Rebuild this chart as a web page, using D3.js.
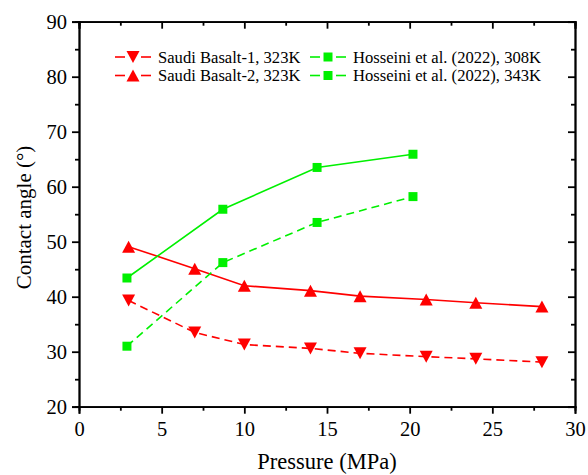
<!DOCTYPE html>
<html>
<head>
<meta charset="utf-8">
<script src="https://cdn.jsdelivr.net/npm/d3@7"></script>
<style>
  html, body { margin: 0; padding: 0; background: #fff; }
  svg text { font-family: 'Liberation Serif', 'Times New Roman', Times, serif !important; }
</style>
</head>
<body>
<svg id="chart" width="588" height="475"></svg>
<script>
// Contact angle vs pressure
const saudiX = [3, 7, 10, 14, 17, 21, 24, 28];
const basalt1 = [39.3, 33.5, 31.3, 30.6, 29.7, 29.1, 28.7, 28.1];
const basalt2 = [49.1, 45.1, 42.0, 41.1, 40.1, 39.5, 38.9, 38.2];
const hosseiniX = [2.9, 8.7, 14.4, 20.2];
const hosseini308 = [31.0, 46.2, 53.5, 58.2];
const hosseini343 = [43.4, 55.9, 63.5, 65.9];
const xTicks = [0, 5, 10, 15, 20, 25, 30];
const yTicks = [20, 30, 40, 50, 60, 70, 80, 90];

const RED = "#ff0000", GREEN = "#00f000";

const series = [
  { name: "Saudi Basalt-1, 323K", x: saudiX, y: basalt1, color: RED, dash: "8,5", marker: "down" },
  { name: "Saudi Basalt-2, 323K", x: saudiX, y: basalt2, color: RED, dash: null, marker: "up" },
  { name: "Hosseini et al. (2022), 308K", x: hosseiniX, y: hosseini308, color: GREEN, dash: "8,5", marker: "square" },
  { name: "Hosseini et al. (2022), 343K", x: hosseiniX, y: hosseini343, color: GREEN, dash: null, marker: "square" }
];

const svg = d3.select("#chart");
const plotL = 79, plotR = 575, plotT = 21.7, plotB = 406.7;
const x = d3.scaleLinear().domain([0, 30]).range([plotL, plotR]);
const y = d3.scaleLinear().domain([20, 90]).range([plotB, plotT]);

function markerPath(type) {
  if (type === "up") { const w = 13, h = 12; return `M0,${-h/2}L${w/2},${h/2}L${-w/2},${h/2}Z`; }
  if (type === "down") { const w = 13, h = 12; return `M0,${h/2}L${w/2},${-h/2}L${-w/2},${-h/2}Z`; }
  const s = 9; return `M${-s/2},${-s/2}h${s}v${s}h${-s}Z`;
}

// Axes: outward ticks on bottom/left, mirrored inward ticks on top/right
const minorX = d3.range(2.5, 30, 5);
const minorY = d3.range(25, 90, 10);
const axisStroke = 1.8;
const majorLen = 7, minorLen = 4;

function styleAxis(g) {
  g.selectAll(".domain").attr("stroke", "#000").attr("stroke-width", axisStroke);
  g.selectAll(".tick line").attr("stroke", "#000").attr("stroke-width", axisStroke);
  g.selectAll(".tick text").attr("font-size", 20.5).attr("fill", "#000");
}

// minor ticks
svg.append("g").attr("transform", `translate(0,${plotB})`)
  .call(d3.axisBottom(x).tickValues(minorX).tickSize(minorLen).tickFormat(""))
  .call(styleAxis);
svg.append("g").attr("transform", `translate(0,${plotT})`)
  .call(d3.axisBottom(x).tickValues(minorX).tickSize(minorLen).tickFormat(""))
  .call(styleAxis);
svg.append("g").attr("transform", `translate(${plotL},0)`)
  .call(d3.axisLeft(y).tickValues(minorY).tickSize(minorLen).tickFormat(""))
  .call(styleAxis);
svg.append("g").attr("transform", `translate(${plotR},0)`)
  .call(d3.axisLeft(y).tickValues(minorY).tickSize(minorLen).tickFormat(""))
  .call(styleAxis);

// major ticks
svg.append("g").attr("transform", `translate(0,${plotB})`)
  .call(d3.axisBottom(x).tickValues(xTicks).tickSize(majorLen).tickPadding(8).tickFormat(d3.format("d")))
  .call(styleAxis);
svg.append("g").attr("transform", `translate(0,${plotT})`)
  .call(d3.axisBottom(x).tickValues(xTicks).tickSize(majorLen).tickFormat(""))
  .call(styleAxis);
svg.append("g").attr("transform", `translate(${plotL},0)`)
  .call(d3.axisLeft(y).tickValues(yTicks).tickSize(majorLen).tickPadding(5).tickFormat(d3.format("d")))
  .call(styleAxis);
svg.append("g").attr("transform", `translate(${plotR},0)`)
  .call(d3.axisLeft(y).tickValues(yTicks).tickSize(majorLen).tickFormat(""))
  .call(styleAxis);

// Axis titles
svg.append("text")
  .attr("x", (plotL + plotR) / 2).attr("y", 469)
  .attr("text-anchor", "middle").attr("font-size", 22.5).attr("fill", "#000")
  .text("Pressure (MPa)");
svg.append("text")
  .attr("transform", `translate(31,217.5) rotate(-90)`)
  .attr("text-anchor", "middle").attr("font-size", 21).attr("fill", "#000")
  .text("Contact angle (°)");

// Series lines and markers
const line = d3.line().x(d => x(d[0])).y(d => y(d[1]));
series.forEach(s => {
  const pts = s.x.map((v, i) => [v, s.y[i]]);
  svg.append("path").datum(pts)
    .attr("d", line).attr("fill", "none")
    .attr("stroke", s.color).attr("stroke-width", 1.6)
    .attr("stroke-dasharray", s.dash);
});
series.forEach(s => {
  const pts = s.x.map((v, i) => [v, s.y[i]]);
  svg.append("g").selectAll("path").data(pts).join("path")
    .attr("transform", d => `translate(${x(d[0])},${y(d[1])})`)
    .attr("d", markerPath(s.marker))
    .attr("fill", s.color);
});

// Legend
const legendPos = [
  { lx: 115, mx: 133, tx: 158, ly: 57 },
  { lx: 115, mx: 133, tx: 158, ly: 75.5 },
  { lx: 310, mx: 328, tx: 353, ly: 57 },
  { lx: 310, mx: 328, tx: 353, ly: 75.5 }
];
series.forEach((s, i) => {
  const p = legendPos[i];
  const g = svg.append("g");
  const half = p.mx - p.lx;
  g.append("line").attr("x1", p.lx).attr("x2", p.mx - 8).attr("y1", p.ly).attr("y2", p.ly)
    .attr("stroke", s.color).attr("stroke-width", 1.6);
  g.append("line").attr("x1", p.mx + 8).attr("x2", p.mx + half).attr("y1", p.ly).attr("y2", p.ly)
    .attr("stroke", s.color).attr("stroke-width", 1.6);
  g.append("path").attr("transform", `translate(${p.mx},${p.ly})`)
    .attr("d", markerPath(s.marker)).attr("fill", s.color);
  g.append("text").attr("x", p.tx).attr("y", p.ly).attr("dy", "0.35em")
    .attr("font-size", 16.6).attr("fill", "#000").text(s.name);
});
</script>
</body>
</html>
